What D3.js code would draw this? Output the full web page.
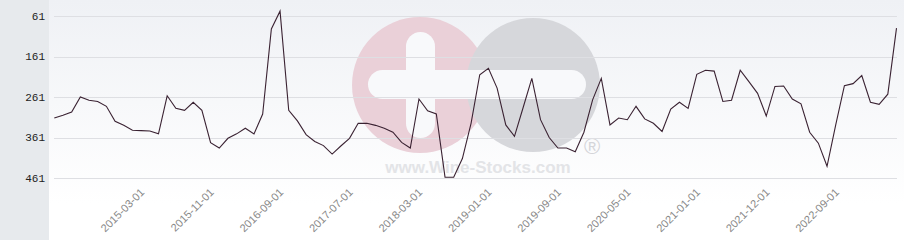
<!DOCTYPE html>
<html>
<head>
<meta charset="utf-8">
<script src="https://cdn.jsdelivr.net/npm/d3@7/dist/d3.min.js"></script>
<style>
  body { margin: 0; background: #fff; }
  .ytick { font-family: "Liberation Mono", monospace; font-size: 11px; fill: #222; }
  .xtick { font-family: "Liberation Sans", Arial, sans-serif; font-size: 11px; fill: #888; }
</style>
</head>
<body>
<svg id="rank-chart" width="904" height="240"></svg>
<script>
// monthly dates (some months missing in the source)
var dates = [
  "2014-05-01", "2014-06-01", "2014-07-01", "2014-08-01", "2014-09-01", "2014-10-01", "2014-11-01", "2014-12-01", "2015-01-01", "2015-02-01",
  "2015-03-01", "2015-04-01", "2015-05-01", "2015-06-01", "2015-07-01", "2015-08-01", "2015-09-01", "2015-10-01",
  "2015-11-01", "2015-12-01", "2016-01-01", "2016-02-01", "2016-04-01", "2016-05-01", "2016-06-01", "2016-08-01",
  "2016-09-01", "2016-10-01", "2016-11-01", "2017-01-01", "2017-02-01", "2017-03-01", "2017-05-01", "2017-06-01",
  "2017-07-01", "2017-08-01", "2017-09-01", "2017-10-01", "2017-11-01", "2017-12-01", "2018-01-01", "2018-02-01",
  "2018-03-01", "2018-04-01", "2018-05-01", "2018-07-01", "2018-08-01", "2018-09-01", "2018-10-01", "2018-12-01",
  "2019-01-01", "2019-02-01", "2019-03-01", "2019-04-01", "2019-05-01", "2019-06-01", "2019-07-01", "2019-08-01",
  "2019-09-01", "2019-10-01", "2019-11-01", "2019-12-01", "2020-01-01", "2020-02-01", "2020-03-01", "2020-04-01",
  "2020-05-01", "2020-06-01", "2020-07-01", "2020-08-01", "2020-09-01", "2020-10-01", "2020-11-01", "2020-12-01",
  "2021-01-01", "2021-02-01", "2021-03-01", "2021-05-01", "2021-06-01", "2021-08-01", "2021-09-01", "2021-11-01",
  "2021-12-01", "2022-01-01", "2022-02-01", "2022-03-01", "2022-04-01", "2022-05-01", "2022-07-01", "2022-08-01",
  "2022-09-01", "2022-10-01", "2022-11-01", "2022-12-01", "2023-01-01", "2023-02-01", "2023-03-01", "2023-04-01"
];

// rank (lower is better)
var ranks = [
  313, 306, 298, 261, 269, 272, 284, 321, 331, 343,
  344, 345, 352, 258, 289, 294, 274, 294, 374, 387,
  363, 352, 338, 352, 303, 93, 49, 294, 320, 354,
  371, 381, 402, 382, 363, 326, 326, 331, 338, 348,
  373, 387, 266, 295, 303, 459, 459, 413, 326, 206,
  190, 239, 330, 358, 287, 215, 317, 361, 387, 387,
  396, 348, 268, 215, 330, 313, 317, 284, 315, 326,
  346, 291, 274, 289, 205, 195, 197, 272, 269, 195,
  223, 252, 308, 235, 234, 266, 278, 348, 375, 432,
  330, 233, 228, 208, 274, 279, 254, 91
];

var yTicks = [61, 161, 261, 361, 461];
var xTickLabels = ["2015-03-01", "2015-11-01", "2016-09-01", "2017-07-01", "2018-03-01",
  "2019-01-01", "2019-09-01", "2020-05-01", "2021-01-01", "2021-12-01", "2022-09-01"];

var svg = d3.select("#rank-chart"),
  width = +svg.attr("width"),
  height = +svg.attr("height"),
  panel = 49;

var data = dates.map(function (d, i) { return { date: d, rank: ranks[i] }; });

var x = d3.scalePoint().domain(dates).range([54.3, 896.5]),
  y = d3.scaleLinear().domain([61, 461]).range([16, 178]);

// backgrounds
var defs = svg.append("defs");
var grad = defs.append("linearGradient")
  .attr("id", "plot-bg")
  .attr("x1", 0).attr("y1", 0).attr("x2", 0).attr("y2", 1);
grad.append("stop").attr("offset", "0%").attr("stop-color", "#eff1f5");
grad.append("stop").attr("offset", "85%").attr("stop-color", "#ffffff");

svg.append("rect")
  .attr("x", panel).attr("y", 0)
  .attr("width", width - panel).attr("height", height)
  .attr("fill", "url(#plot-bg)");

svg.append("rect")
  .attr("x", 0).attr("y", 0)
  .attr("width", panel).attr("height", height)
  .attr("fill", "#e7eaed");

// watermark
var wm = svg.append("g").attr("class", "watermark");
wm.append("circle").attr("cx", 420).attr("cy", 85).attr("r", 68).attr("fill", "#ead0d8");
wm.append("circle").attr("cx", 533).attr("cy", 85).attr("r", 67).attr("fill", "#d6d7db");
wm.append("rect")
  .attr("x", 368).attr("y", 70).attr("width", 218).attr("height", 29).attr("rx", 14.5)
  .attr("fill", "#f8f9fb");
wm.append("rect")
  .attr("x", 406).attr("y", 32).attr("width", 29).attr("height", 106).attr("rx", 14.5)
  .attr("fill", "#f8f9fb");
wm.append("text")
  .attr("x", 478).attr("y", 173)
  .attr("text-anchor", "middle")
  .style("font-family", "Liberation Sans, Arial, sans-serif")
  .style("font-weight", "bold")
  .style("font-size", "17px")
  .style("fill", "#e3e4e7")
  .text("www.Wine-Stocks.com");
wm.append("text")
  .attr("x", 592).attr("y", 154)
  .attr("text-anchor", "middle")
  .style("font-family", "Liberation Sans, Arial, sans-serif")
  .style("font-size", "22px")
  .style("fill", "#d4d5d9")
  .text("\u00ae");

// grid
svg.append("g")
  .attr("class", "grid")
  .selectAll("line")
  .data(yTicks)
  .enter().append("line")
  .attr("x1", 54).attr("x2", 897)
  .attr("y1", function (d) { return Math.round(y(d)) + 0.5; })
  .attr("y2", function (d) { return Math.round(y(d)) + 0.5; })
  .attr("stroke", "#dedfe3")
  .attr("stroke-width", 1);

// y axis labels
svg.append("g")
  .selectAll("text")
  .data(yTicks)
  .enter().append("text")
  .attr("class", "ytick")
  .attr("x", 45)
  .attr("y", function (d) { return y(d); })
  .attr("dy", "0.35em")
  .attr("text-anchor", "end")
  .text(function (d) { return d; });

// x axis labels
svg.append("g")
  .selectAll("text")
  .data(xTickLabels)
  .enter().append("text")
  .attr("class", "xtick")
  .attr("text-anchor", "end")
  .attr("transform", function (d) { return "translate(" + (x(d) + 4) + ",193) rotate(-45)"; })
  .text(function (d) { return d; });

// line
var line = d3.line()
  .x(function (d) { return x(d.date); })
  .y(function (d) { return y(d.rank); });

svg.append("path")
  .datum(data)
  .attr("fill", "none")
  .attr("stroke", "#3a2232")
  .attr("stroke-width", 1.1)
  .attr("stroke-linejoin", "miter")
  .attr("d", line);
</script>
</body>
</html>
